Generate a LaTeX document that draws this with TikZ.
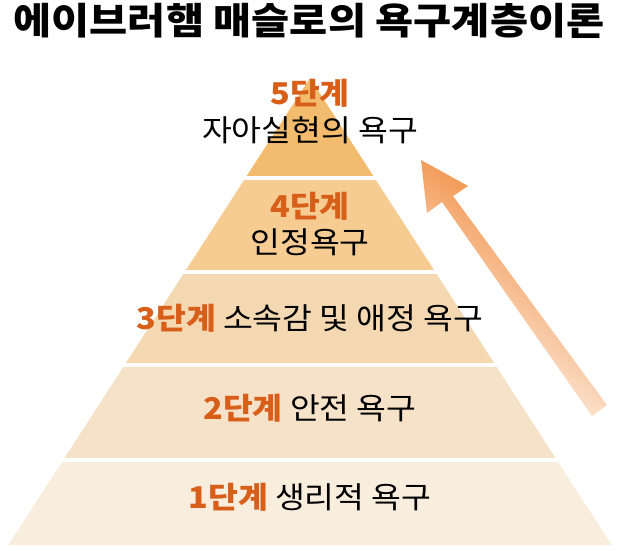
\documentclass[tikz,border=0pt]{standalone}
\usepackage{fontspec}
\setmainfont{Noto Sans CJK KR}
\definecolor{lvA}{HTML}{F3BB6E}
\definecolor{lvB}{HTML}{F6CC92}
\definecolor{lvC}{HTML}{F4D8B2}
\definecolor{lvD}{HTML}{F6E2C8}
\definecolor{lvE}{HTML}{F9EDDD}
\definecolor{stepc}{HTML}{D85F1A}
\definecolor{arrc}{HTML}{EE7A20}
\tikzset{
  lvl/.style={font=\fontsize{30}{34}\selectfont, inner sep=0pt, xscale=1.08},
  stp/.style={font=\fontsize{30}{34}\selectfont\bfseries, text=stepc, inner sep=0pt, xscale=1.08},
  sep/.style={white, line width=4pt}
}
\begin{document}
\begin{tikzpicture}[x=1pt,y=-1pt]
\useasboundingbox (0,0) rectangle (619,551);
\fill[lvA] (310,78) -- (374.6,178) -- (245.4,178) -- cycle;
\fill[lvB] (245.4,178) -- (374.6,178) -- (435.3,272) -- (184.7,272) -- cycle;
\fill[lvC] (184.7,272) -- (435.3,272) -- (495.4,365) -- (124.6,365) -- cycle;
\fill[lvD] (124.6,365) -- (495.4,365) -- (556.8,460) -- (63.2,460) -- cycle;
\fill[lvE] (63.2,460) -- (556.8,460) -- (611.7,545) -- (8.3,545) -- cycle;
\draw[sep] (230,178) -- (390,178);
\draw[sep] (170,272) -- (450,272);
\draw[sep] (110,365) -- (510,365);
\draw[sep] (50,460) -- (570,460);
\node[font=\fontsize{37}{40}\selectfont\bfseries, inner sep=0pt, xscale=1.12] (title) at (309,21) {에이브러햄 매슬로의 욕구계층이론};
\node[stp] (s5) at (310,93) {5단계};
\node[lvl] (t5) at (310,130) {자아실현의 욕구};
\node[stp] (s4) at (310,206) {4단계};
\node[lvl] (t4) at (310,242) {인정욕구};
\node[lvl] (t3) at (310,318) {\textcolor{stepc}{\bfseries 3단계} 소속감 및 애정 욕구};
\node[lvl] (t2) at (310,408) {\textcolor{stepc}{\bfseries 2단계} 안전 욕구};
\node[lvl] (t1) at (310,497) {\textcolor{stepc}{\bfseries 1단계} 생리적 욕구};
\shade[top color=arrc, bottom color=white, shading angle=-35]
  (607,405) -- (592,416) -- (442,202) -- (427,213) -- (421,160) -- (468,186) -- (453,196) -- cycle;
\end{tikzpicture}
\end{document}
